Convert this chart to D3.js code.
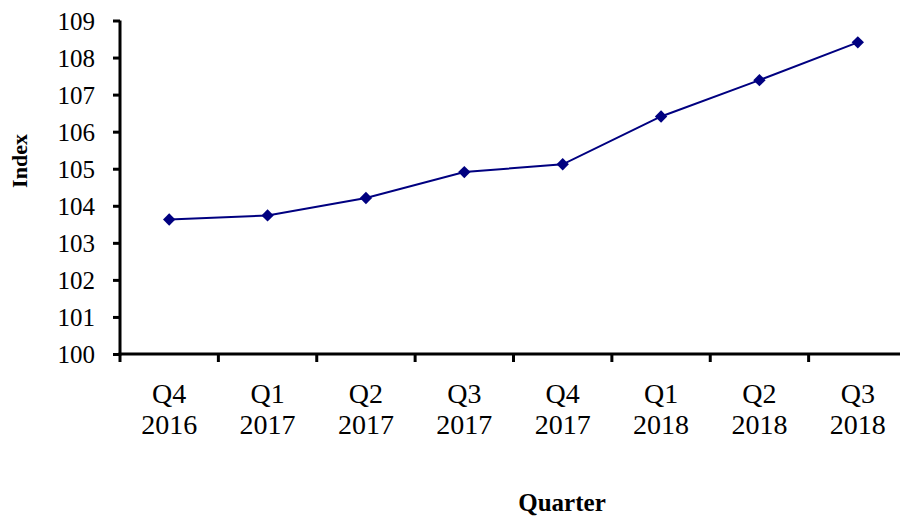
<!DOCTYPE html>
<html><head><meta charset="utf-8">
<script src="https://cdn.jsdelivr.net/npm/d3@7"></script>
<style>body{margin:0;background:#fff}svg{display:block}</style>
</head><body>
<svg id="c" width="900" height="518"></svg>
<script>
const quarters = ["Q4","Q1","Q2","Q3","Q4","Q1","Q2","Q3"];
const years = ["2016","2017","2017","2017","2017","2018","2018","2018"];
const values = [103.63, 103.74, 104.21, 104.91, 105.12, 106.41, 107.39, 108.41];
const yTicks = [100,101,102,103,104,105,106,107,108,109];

const svg = d3.select("#c");
const L = 120, R = 907, T = 20.5, B = 354;
const idx = d3.range(values.length);
const x = d3.scaleBand().domain(idx).range([L, R]);
const y = d3.scaleLinear().domain([100,109]).range([B, T]);
const font = "'Liberation Serif','Times New Roman',serif";

// y axis
const ya = svg.append("g").attr("transform",`translate(${L},0)`)
  .call(d3.axisLeft(y).tickValues(yTicks).tickSize(7).tickPadding(18).tickFormat(d3.format("d")));
ya.select(".domain").attr("stroke","#000").attr("stroke-width",3).attr("d",`M0,${T}V${B+1.5}`);
ya.selectAll(".tick line").attr("stroke","#000").attr("stroke-width",3);
ya.selectAll(".tick text").attr("font-family",font).attr("font-size",25).attr("fill","#000").attr("dy","0.34em");

// x axis
const xa = svg.append("g").attr("transform",`translate(0,${B})`);
xa.append("line").attr("x1",L-1.5).attr("x2",R).attr("y1",0).attr("y2",0).attr("stroke","#000").attr("stroke-width",3);
const bounds = idx.map(i=>x(i)).concat([R]);
xa.selectAll("line.t").data(bounds).join("line").attr("class","t")
  .attr("x1",d=>d).attr("x2",d=>d).attr("y1",0).attr("y2",8).attr("stroke","#000").attr("stroke-width",3);
const lab = xa.selectAll("text.q").data(idx).join("text").attr("class","q")
  .attr("x",i=>x(i)+x.bandwidth()/2).attr("text-anchor","middle")
  .attr("font-family",font).attr("font-size",28).attr("fill","#000");
lab.append("tspan").attr("x",i=>x(i)+x.bandwidth()/2).attr("y",49).text(i=>quarters[i]);
lab.append("tspan").attr("x",i=>x(i)+x.bandwidth()/2).attr("y",80).text(i=>years[i]);

// line
const line = d3.line().x((d,i)=>x(i)+x.bandwidth()/2).y(d=>y(d));
svg.append("path").datum(values).attr("d",line).attr("fill","none").attr("stroke","#000080").attr("stroke-width",2);
svg.selectAll("path.m").data(values).join("path").attr("class","m")
  .attr("d",d3.symbol(d3.symbolSquare, 76))
  .attr("transform",(d,i)=>`translate(${x(i)+x.bandwidth()/2},${y(d)}) rotate(45)`)
  .attr("fill","#000080");

// titles
svg.append("text").attr("x",562).attr("y",511).attr("text-anchor","middle")
  .attr("font-family",font).attr("font-size",25).attr("font-weight","bold").text("Quarter");
svg.append("text").attr("transform","translate(27,161) rotate(-90)").attr("text-anchor","middle")
  .attr("font-family",font).attr("font-size",22).attr("font-weight","bold").text("Index");
</script>
</body></html>
